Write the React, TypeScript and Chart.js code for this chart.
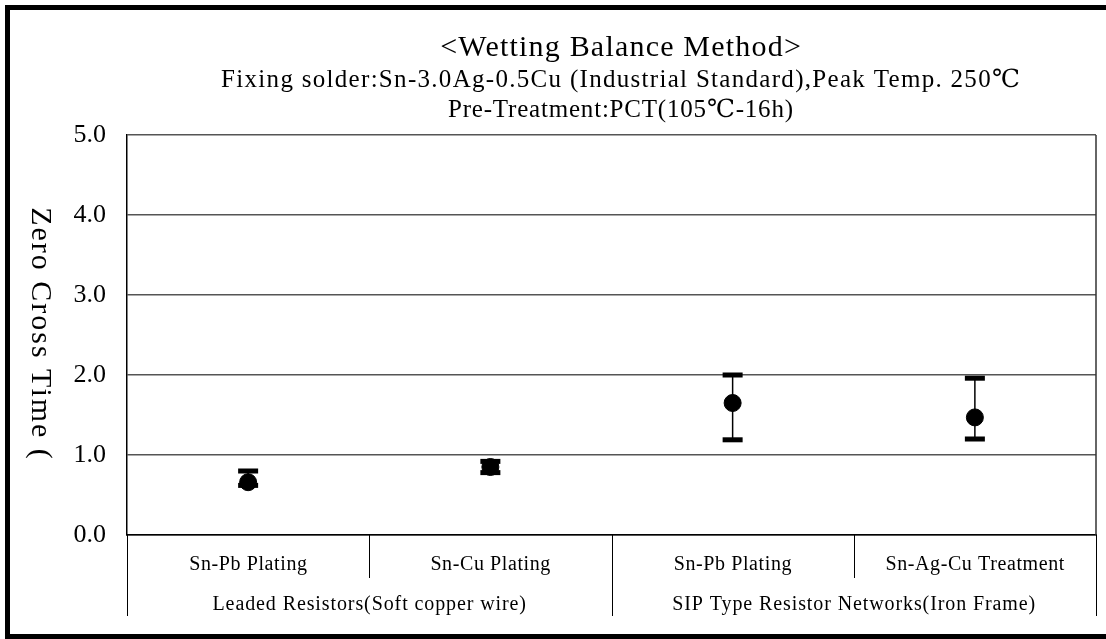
import React, { useEffect, useRef } from "react";
import { Chart, registerables } from "chart.js";
Chart.register(...registerables);

const categories = ["Sn-Pb Plating", "Sn-Cu Plating", "Sn-Pb Plating", "Sn-Ag-Cu Treatment"];
const groups = ["Leaded Resistors(Soft copper wire)", "SIP Type Resistor Networks(Iron Frame)"];
const groupSpans = [2, 2];
const meanValues = [0.66, 0.85, 1.65, 1.47];
const upperValues = [0.8, 0.92, 2.0, 1.96];
const lowerValues = [0.62, 0.78, 1.19, 1.2];
const yTicks = [0, 1, 2, 3, 4, 5];
const titleLines = [
  "<Wetting Balance Method>",
  "Fixing solder:Sn-3.0Ag-0.5Cu (Industrial Standard),Peak Temp. 250℃",
  "Pre-Treatment:PCT(105℃-16h)",
];
const yTitle = "Zero Cross Time (";

const FONT = "'Liberation Serif', 'DejaVu Serif', serif";

function spacedText(ctx: any, text: string, x: number, y: number, spacing: number) {
  ctx.letterSpacing = `${spacing}px`;
  ctx.fillText(text, x + spacing / 2, y);
  ctx.letterSpacing = "0px";
}

export default function App() {
  const ref = useRef<HTMLCanvasElement | null>(null);
  useEffect(() => {
    document.body.style.margin = "0";
    const canvas = ref.current!;
    const decor = {
      id: "decor",
      beforeDatasetsDraw(chart: any) {
        const { ctx, scales } = chart;
        const x = scales.x, y = scales.y;
        ctx.save();
        ctx.fillStyle = "#000";
        ctx.strokeStyle = "#000";
        ctx.lineWidth = 1.5;
        meanValues.forEach((_, i) => {
          const px = x.getPixelForValue(i);
          const yt = y.getPixelForValue(upperValues[i]);
          const yb = y.getPixelForValue(lowerValues[i]);
          ctx.beginPath();
          ctx.moveTo(px, yt);
          ctx.lineTo(px, yb);
          ctx.stroke();
          ctx.fillRect(px - 10, yt - 2.5, 20, 5);
          ctx.fillRect(px - 10, yb - 2.5, 20, 5);
        });
        ctx.restore();
      },
      afterDraw(chart: any) {
        const { ctx, scales, chartArea } = chart;
        const x = scales.x;
        ctx.save();
        // outer frame
        ctx.strokeStyle = "#000";
        ctx.lineWidth = 5;
        ctx.strokeRect(7.5, 7.5, 1110, 629);
        // right border of plot
        ctx.lineWidth = 1.5;
        ctx.strokeStyle = "#333";
        ctx.beginPath();
        ctx.moveTo(chartArea.right, chartArea.top);
        ctx.lineTo(chartArea.right, chartArea.bottom);
        ctx.stroke();
        // titles
        ctx.fillStyle = "#000";
        ctx.textAlign = "center";
        ctx.textBaseline = "middle";
        const cx = (chartArea.left + chartArea.right) / 2 + 9;
        ctx.font = `30px ${FONT}`;
        spacedText(ctx, titleLines[0], cx, 48, 1.2);
        ctx.font = `25px ${FONT}`;
        spacedText(ctx, titleLines[1], cx, 80, 1.3);
        spacedText(ctx, titleLines[2], cx, 110, 0.8);
        // y title rotated clockwise
        ctx.save();
        ctx.translate(40, 333);
        ctx.rotate(Math.PI / 2);
        ctx.font = `30px ${FONT}`;
        spacedText(ctx, yTitle, 0, 0, 2);
        ctx.restore();
        // category labels
        const bottom = chartArea.bottom;
        const half = (x.getPixelForValue(1) - x.getPixelForValue(0)) / 2;
        ctx.font = `20px ${FONT}`;
        categories.forEach((c, i) => {
          spacedText(ctx, c, x.getPixelForValue(i), bottom + 30, 0.6);
        });
        ctx.strokeStyle = "#000";
        ctx.lineWidth = 1;
        for (let i = 1; i < categories.length; i++) {
          const px = Math.round(x.getPixelForValue(i) - half) + 0.5;
          ctx.beginPath();
          ctx.moveTo(px, bottom);
          ctx.lineTo(px, bottom + 43);
          ctx.stroke();
        }
        // groups
        let start = 0;
        const bounds: number[] = [x.getPixelForValue(0) - half];
        groups.forEach((g, gi) => {
          const end = start + groupSpans[gi] - 1;
          const l = x.getPixelForValue(start) - half;
          const r = x.getPixelForValue(end) + half;
          spacedText(ctx, g, (l + r) / 2, bottom + 70, 0.9);
          bounds.push(r);
          start = end + 1;
        });
        bounds.forEach((b) => {
          const px = Math.round(b) + 0.5;
          ctx.beginPath();
          ctx.moveTo(px, bottom);
          ctx.lineTo(px, bottom + 81);
          ctx.stroke();
        });
        ctx.restore();
      },
    };
    const chart = new Chart(canvas, {
      type: "line",
      data: {
        labels: categories,
        datasets: [
          {
            data: meanValues,
            showLine: false,
            pointRadius: 8.5,
            pointBackgroundColor: "#000",
            pointBorderColor: "#000",
            borderColor: "#000",
          },
        ],
      },
      options: {
        animation: false,
        responsive: false,
        maintainAspectRatio: false,
        layout: { padding: { top: 135, right: 10, left: 0, bottom: 0 } },
        plugins: { legend: { display: false }, tooltip: { enabled: false } },
        scales: {
          x: {
            type: "category",
            offset: true,
            grid: { display: false },
            border: { display: true, color: "#000", width: 1.5 },
            ticks: { display: false },
            afterFit: (s: any) => {
              s.height = 104;
            },
          },
          y: {
            min: 0,
            max: 5,
            afterBuildTicks: (s: any) => {
              s.ticks = yTicks.map((v) => ({ value: v }));
            },
            ticks: {
              callback: (v: any) => Number(v).toFixed(1),
              font: { family: FONT, size: 26 },
              color: "#000",
              padding: 21,
            },
            grid: { color: "#555", lineWidth: 1.5, drawTicks: false },
            border: { color: "#000", width: 1.5 },
            afterFit: (s: any) => {
              s.width = 127;
            },
          },
        },
      },
      plugins: [decor],
    });
    return () => chart.destroy();
  }, []);
  return <canvas ref={ref} width={1106} height={639} style={{ display: "block" }} />;
}
